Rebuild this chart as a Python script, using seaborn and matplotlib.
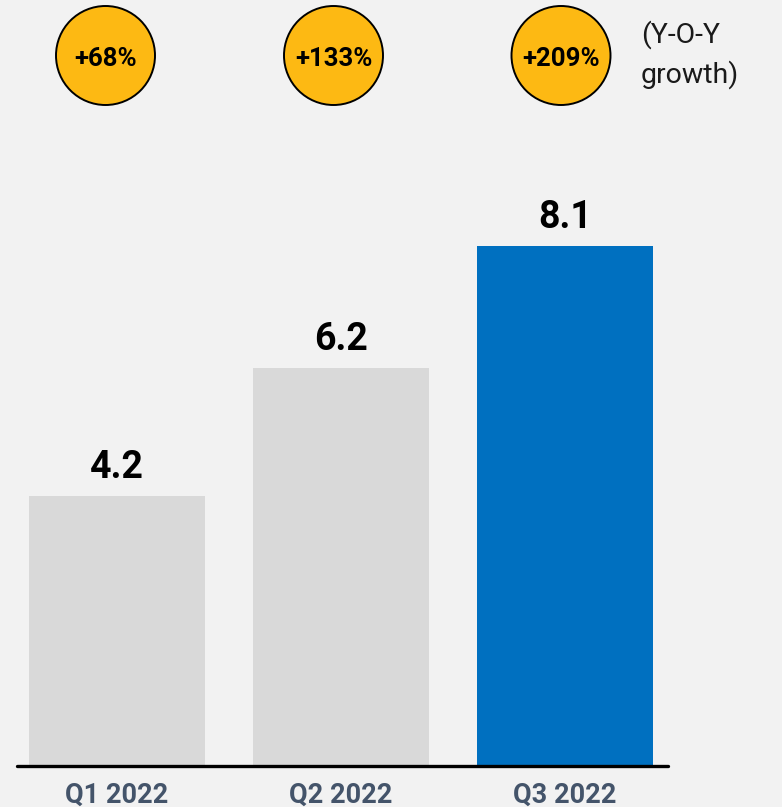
import matplotlib
matplotlib.use("Agg")
import matplotlib.pyplot as plt
from matplotlib.patches import Ellipse
import seaborn as sns
import pandas as pd

# ---- data ----
quarters = ["Q1 2022", "Q2 2022", "Q3 2022"]
revenue = [4.2, 6.2, 8.1]
value_labels = ["4.2", "6.2", "8.1"]
growth_labels = ["+68%", "+133%", "+209%"]
bar_colors = ["#d9d9d9", "#d9d9d9", "#0070c0"]

W, H = 782, 807
sns.set_theme(style="white")
plt.rcParams["font.family"] = ["Roboto", "DejaVu Sans"]

fig = plt.figure(figsize=(W / 100, H / 100), dpi=100)
fig.patch.set_facecolor("#f2f2f2")

# axes: x from 17px to 668px, baseline at 766px from top
ax = fig.add_axes([17 / W, (H - 766) / H, 651 / W, 766 / H])
ax.set_facecolor("#f2f2f2")

df = pd.DataFrame({"quarter": quarters, "value": revenue})
sns.barplot(data=df, x="quarter", y="value", hue="quarter", palette=bar_colors,
            width=0.785, legend=False, ax=ax, saturation=1, linewidth=0)

px_per_unit = 64.2
ax.set_ylim(0, 766 / px_per_unit)
ax.set_xlim(-0.446, 2.459)

for s in ax.spines.values():
    s.set_visible(False)
ax.axhline(0, color="black", lw=2.4, clip_on=False, zorder=5)
ax.set_yticks([])
ax.set_ylabel("")
ax.set_xlabel("")
ax.tick_params(axis="x", length=0, pad=11)
ax.set_xticks(range(len(quarters)))
ax.set_xticklabels(quarters, fontsize=19.5, fontweight="bold", color="#44546a")

for i, (v, lab) in enumerate(zip(revenue, value_labels)):
    ax.annotate(lab, (i, v), xytext=(0, 13), textcoords="offset points",
                ha="center", va="baseline", fontsize=27, fontweight="bold",
                color="black")

# growth circles (figure pixel positions)
circle_cx = [105.5, 333.5, 561.0]
cy = 55.5
r = 49.5
for cx, g in zip(circle_cx, growth_labels):
    e = Ellipse((cx / W, 1 - cy / H), 2 * r / W, 2 * r / H,
                transform=fig.transFigure, facecolor="#fdb913",
                edgecolor="black", lw=1.4, zorder=3)
    fig.patches.append(e)
    fig.text(cx / W, 1 - 66.5 / H, g, ha="center", va="baseline",
             fontsize=18.5, fontweight="bold", color="black", zorder=4)

fig.text(641 / W, 1 - 43 / H, "(Y-O-Y", ha="left", va="baseline",
         fontsize=20.5, color="#1a1a1a")
fig.text(641 / W, 1 - 83 / H, "growth)", ha="left", va="baseline",
         fontsize=20.5, color="#1a1a1a")

fig.savefig("out.png", dpi=100, facecolor=fig.get_facecolor())
